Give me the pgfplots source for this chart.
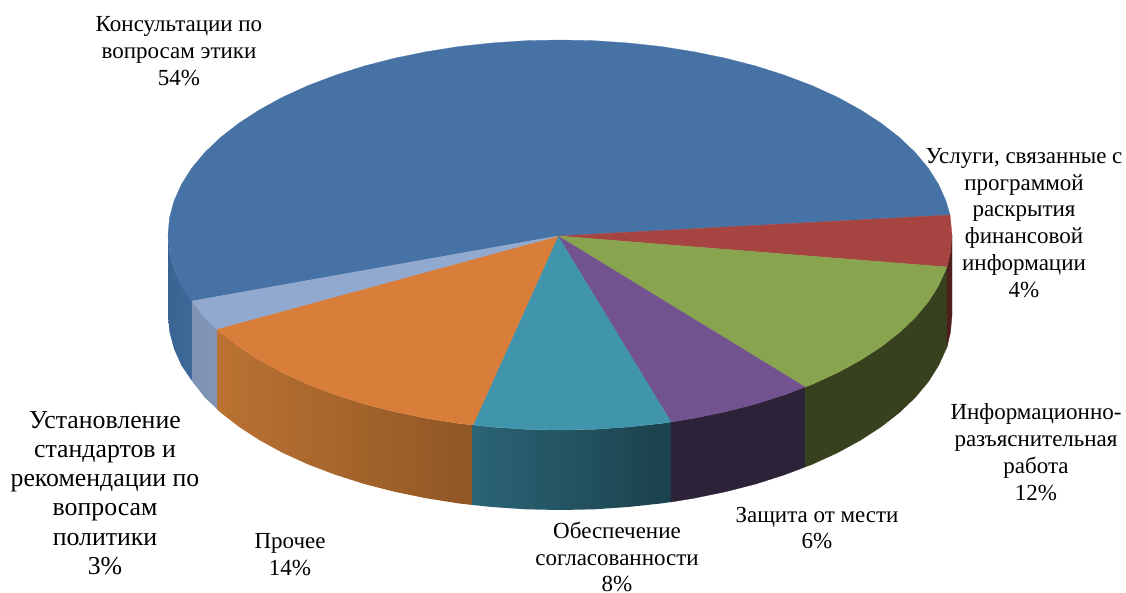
\documentclass[border=0pt]{standalone}
\usepackage{fontspec}
\setmainfont{Liberation Serif}
\usepackage{pgfplots}
\pgfplotsset{compat=1.18}
\definecolor{cblue}{HTML}{4672A6}
\definecolor{cred}{HTML}{A64442}
\definecolor{cgreen}{HTML}{89A44E}
\definecolor{cpurple}{HTML}{725390}
\definecolor{cteal}{HTML}{4095AD}
\definecolor{corange}{HTML}{D87E3A}
\definecolor{clight}{HTML}{92A9CF}
\definecolor{wblueA}{HTML}{3A6492}
\definecolor{wblueB}{HTML}{3E6898}
\definecolor{wlightA}{HTML}{7F93B4}
\definecolor{wlightB}{HTML}{8094B6}
\definecolor{worangeA}{HTML}{BB7232}
\definecolor{worangeB}{HTML}{8F5725}
\definecolor{wtealA}{HTML}{2B6475}
\definecolor{wtealB}{HTML}{1B414C}
\definecolor{wpurple}{HTML}{2C2339}
\definecolor{wgreen}{HTML}{38411D}
\definecolor{wred}{HTML}{4F1E1D}
\pgfplotsset{
  face/.style={fill=#1, draw=#1, line width=0.3pt, line join=round, mark=none, forget plot},
  wall/.style 2 args={draw=none, shade, shading angle=90, left color=#1, right color=#2, mark=none, forget plot},
}
\tikzset{lab/.style={align=center, inner sep=0pt, font=\fontsize{23}{26.8}\selectfont}}
\begin{document}
\begin{tikzpicture}
\useasboundingbox (0,0) rectangle (1126pt,592pt);
\begin{axis}[
    at={(0,0)}, anchor=south west,
    hide axis, scale only axis,
    width=1126pt, height=592pt,
    xmin=0, xmax=1126, ymin=0, ymax=592,
    y dir=reverse, clip=false,
]
% side walls
\addplot[wall={wblueA}{wblueB}] coordinates {(192,301) (181.4,285.5) (174,268.9) (169.5,252) (168,235) (168,315) (169.5,332) (174,348.9) (181.4,365.5) (192,381)};
\addplot[wall={wlightA}{wlightB}] coordinates {(217,329) (204.7,317.4) (192,301) (192,381) (204.7,397.4) (217,409)};
\addplot[wall={worangeA}{worangeB}] coordinates {(473,425) (458.5,423.4) (425.9,418.2) (394.3,411.7) (364,403.9) (335.2,394.7) (308,384.4) (282.8,372.9) (259.7,360.3) (238.9,346.8) (220.5,332.5) (217,329) (217,409) (220.5,412.5) (238.9,426.8) (259.7,440.3) (282.8,452.9) (308,464.4) (335.2,474.7) (364,483.9) (394.3,491.7) (425.9,498.2) (458.5,503.4) (473,505)};
\addplot[wall={wtealA}{wtealB}] coordinates {(671,422) (661.5,423.4) (628.1,427) (594.2,429.3) (560,430) (525.8,429.3) (491.9,427) (473,425) (472.5,425) (472.5,505) (473,505) (491.9,507) (525.8,509.3) (560,510) (594.2,509.3) (628.1,507) (661.5,503.4) (671,502)};
\addplot[face=wpurple] coordinates {(805,387) (784.8,394.7) (756,403.9) (725.7,411.7) (694.1,418.2) (671,422) (671,502) (694.1,498.2) (725.7,491.7) (756,483.9) (784.8,474.7) (805,467) (805,387)};
\addplot[face=wgreen] coordinates {(947,267) (938.6,285.5) (928.4,301.7) (915.3,317.4) (899.5,332.5) (881.1,346.8) (860.3,360.3) (837.2,372.9) (812,384.4) (805,387) (805,467) (812,464.4) (837.2,452.9) (860.3,440.3) (881.1,426.8) (899.5,412.5) (915.3,397.4) (928.4,381.7) (938.6,365.5) (947,347) (947,267)};
\addplot[face=wred] coordinates {(952,235) (950.5,252) (947,267) (947,347) (950.5,332) (952,315) (952,235)};
% top faces
\addplot[face=cblue] coordinates {(558,236) (192,301) (181.4,285.5) (174,268.9) (169.5,252) (168,235) (169.5,218) (174,201.1) (181.4,184.5) (191.6,168.3) (204.7,152.6) (220.5,137.5) (238.9,123.2) (259.7,109.7) (282.8,97.1) (308,85.6) (335.2,75.3) (364,66.1) (394.3,58.3) (425.9,51.8) (458.5,46.6) (491.9,43) (525.8,40.7) (560,40) (594.2,40.7) (628.1,43) (661.5,46.6) (694.1,51.8) (725.7,58.3) (756,66.1) (784.8,75.3) (812,85.6) (837.2,97.1) (860.3,109.7) (881.1,123.2) (899.5,137.5) (915.3,152.6) (928.4,168.3) (938.6,184.5) (946,201.1) (950,215) (558,236)};
\addplot[face=cred] coordinates {(558,236) (950,215) (952,235) (950.5,252) (947,267) (558,236)};
\addplot[face=cgreen] coordinates {(558,236) (947,267) (938.6,285.5) (928.4,301.7) (915.3,317.4) (899.5,332.5) (881.1,346.8) (860.3,360.3) (837.2,372.9) (812,384.4) (805,387) (558,236)};
\addplot[face=cpurple] coordinates {(558,236) (805,387) (784.8,394.7) (756,403.9) (725.7,411.7) (694.1,418.2) (671,422) (558,236)};
\addplot[face=cteal] coordinates {(558,236) (671,422) (661.5,423.4) (628.1,427) (594.2,429.3) (560,430) (525.8,429.3) (491.9,427) (473,425) (558,236)};
\addplot[face=corange] coordinates {(558,236) (473,425) (458.5,423.4) (425.9,418.2) (394.3,411.7) (364,403.9) (335.2,394.7) (308,384.4) (282.8,372.9) (259.7,360.3) (238.9,346.8) (220.5,332.5) (217,329) (558,236)};
\addplot[face=clight] coordinates {(558,236) (217,329) (204.7,317.4) (192,301) (558,236)};
% labels
\node[lab] at (axis cs:179,51) {Консультации по\\вопросам этики\\54\%};
\node[lab] at (axis cs:1024,223) {Услуги, связанные с\\программой\\раскрытия\\финансовой\\информации\\4\%};
\node[lab] at (axis cs:1036,452) {Информационно-\\разъяснительная\\работа\\12\%};
\node[lab] at (axis cs:817,528) {Защита от мести\\6\%};
\node[lab] at (axis cs:617,557) {Обеспечение\\согласованности\\8\%};
\node[lab] at (axis cs:290,555) {Прочее\\14\%};
\node[lab, font=\fontsize{25.8}{29.3}\selectfont] at (axis cs:105,493) {Установление\\стандартов и\\рекомендации по\\вопросам\\политики\\3\%};
\end{axis}
\end{tikzpicture}
\end{document}
